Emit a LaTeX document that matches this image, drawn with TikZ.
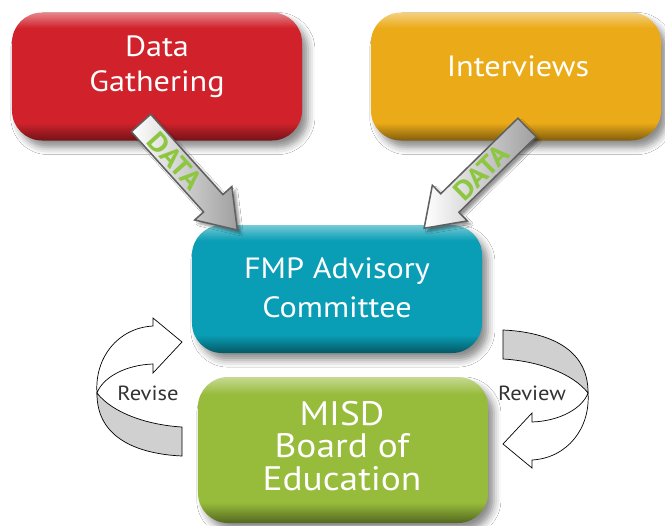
\documentclass[tikz,border=0pt]{standalone}
\usepackage{fontspec}
\setmainfont{PT Sans}[FakeStretch=1.1]
\usetikzlibrary{shadows.blur}

\definecolor{boxred}{RGB}{209,34,43}
\definecolor{boxorange}{RGB}{235,170,24}
\definecolor{boxteal}{RGB}{9,158,181}
\definecolor{boxgreen}{RGB}{151,187,58}
\definecolor{datagreen}{RGB}{141,198,63}
\definecolor{arrowgray}{RGB}{96,96,96}
\definecolor{loopgray}{RGB}{208,208,208}

% bevelled fill: dark lower rim, flat face, light upper rim
\pgfdeclareverticalshading[boxbot,boxmid,boxtop]{glossy}{100bp}{%
  color(0bp)=(boxbot); color(25bp)=(boxbot); color(32bp)=(boxmid);
  color(69bp)=(boxmid); color(75bp)=(boxtop); color(100bp)=(boxtop)}

\tikzset{
  box/.style={rectangle, rounded corners=0.9cm, minimum width=8.7cm,
    minimum height=3.84cm, shade, shading=glossy,
    /utils/exec={\colorlet{boxmid}{#1}\colorlet{boxtop}{#1!55!white}%
      \colorlet{boxbot}{#1!55!black}},
    blur shadow={shadow xshift=5pt, shadow yshift=-6pt,
      shadow blur radius=6pt, shadow opacity=45}},
  boxtext/.style={text=white, align=center, inner sep=0pt},
  dataarrow/.style={draw=arrowgray, line width=1.3pt, line join=miter,
    left color=white, right color=gray!75,
    blur shadow={shadow xshift=3pt, shadow yshift=-3pt,
      shadow blur radius=2pt, shadow opacity=40}},
  datatext/.style={text=datagreen, transform shape, inner sep=0pt,
    font=\bfseries\fontsize{23}{23}\selectfont},
  loopline/.style={draw=black, line width=0.6pt},
  looptext/.style={text=black!80, font=\fontsize{17.5}{17.5}\selectfont}
}

\begin{document}
\begin{tikzpicture}[x=0.03cm,y=-0.03cm,>=latex,thick]
\fill[white] (0,0) rectangle (665,525);
\useasboundingbox (0,0) rectangle (665,525);

\node[box=boxred] (gather) at (157,76.5) {};
\node[boxtext, font=\fontsize{25}{30}\selectfont] (gatherlbl) at (157,67)
	{Data\\Gathering};
\node[box=boxorange] (interviews) at (516,76.5) {};
\node[boxtext, font=\fontsize{25}{30}\selectfont] (interviewslbl) at (518,66)
	{Interviews};
\node[box=boxteal] (fmp) at (337,289) {};
\node[boxtext, font=\fontsize{25}{33}\selectfont] (fmplbl) at (337,287.5)
	{FMP Advisory\\Committee};
\node[box=boxgreen, minimum height=4.38cm] (board) at (343,450) {};
\node[boxtext, font=\fontsize{29}{27.7}\selectfont] (boardlbl) at (342,446)
	{MISD\\Board of\\Education};

\def\h{13}
\def\w{25}
\def\l{144}
\def\k{108}
\begin{scope}[shift={(141,123)},rotate=-48]
\draw[dataarrow] (0,-\h) -- (\k,-\h) -- (\k,-\w) -- (\l,0)
	-- (\k,\w) -- (\k,\h) -- (0,\h) -- cycle;
\node[datatext] (dataleft) at (51,0) {DATA};
\end{scope}
\begin{scope}[shift={(527,127.5)},rotate=-135.6]
\draw[dataarrow] (0,-\h) -- (\k,-\h) -- (\k,-\w) -- (\l,0)
	-- (\k,\w) -- (\k,\h) -- (0,\h) -- cycle;
\node[datatext,rotate=180] (dataright) at (64,0) {DATA};
\end{scope}

\def\looparrow{
\filldraw[loopline,fill=white] (-189.5,-67) -- (-189.5,-75) -- (-160.5,-51)
	-- (-189.5,-20) -- (-189.5,-29)
	.. controls (-218,-28) and (-240,-15) .. (-245.5,0)
	.. controls (-248,-35) and (-225,-65) .. cycle;
\filldraw[loopline,fill=loopgray] (-245.5,0)
	.. controls (-230,20) and (-195,32) .. (-160.5,34) -- (-160.5,63)
	.. controls (-205,61) and (-246,45) .. cycle;
}
\begin{scope}[shift={(342.5,393)}]
\looparrow
\end{scope}
\begin{scope}[shift={(342.5,393)},rotate=180]
\looparrow
\end{scope}
\node[looptext] (revise) at (148,393) {Revise};
\node[looptext] (review) at (532,393) {Review};
\end{tikzpicture}
\end{document}
